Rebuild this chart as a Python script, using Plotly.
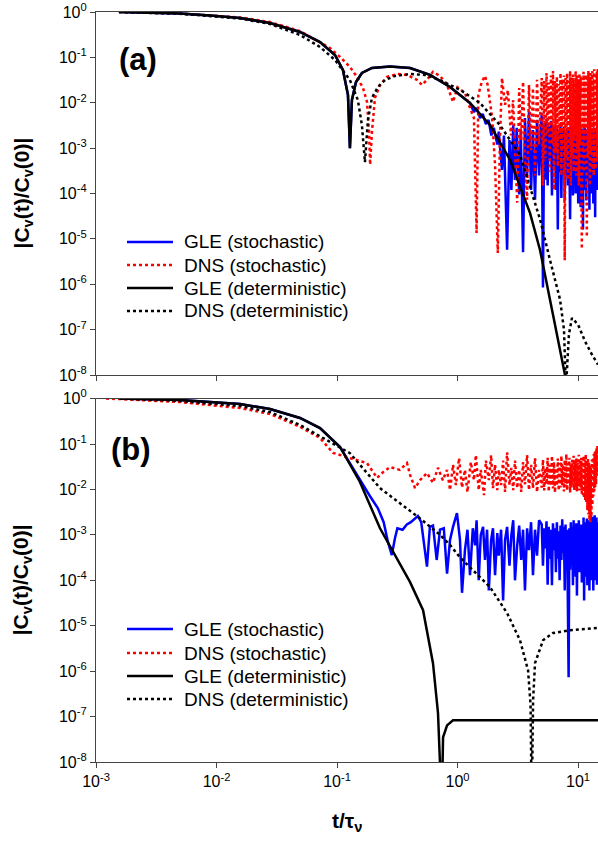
import plotly.graph_objects as go

# ---------------- shared sample times of the dense (late-time) noisy part ----------------
t_dense = [5.0, 5.12, 5.24, 5.36, 5.48, 5.6, 5.72, 5.84, 5.96, 6.08,
           6.2, 6.32, 6.44, 6.56, 6.68, 6.8, 6.92, 7.04, 7.16, 7.28,
           7.4, 7.52, 7.64, 7.76, 7.88, 8.0, 8.12, 8.24, 8.36, 8.48,
           8.6, 8.72, 8.84, 8.96, 9.08, 9.2, 9.32, 9.44, 9.56, 9.68,
           9.8, 9.92, 10.04, 10.16, 10.28, 10.4, 10.52, 10.64, 10.76, 10.88,
           11.0, 11.12, 11.24, 11.36, 11.48, 11.6, 11.72, 11.84, 11.96, 12.08,
           12.2, 12.32, 12.44, 12.56, 12.68, 12.8, 12.92, 13.04, 13.16, 13.28,
           13.4, 13.52, 13.64, 13.76, 13.88, 14.0, 14.12, 14.24, 14.36, 14.48,
           14.6]

# ---------------- Panel (a) data ----------------
gle_det_a_t = [1.55e-3, 2.8e-3, 4.98e-3, 8.83e-3, 0.0157, 0.0278, 0.0493, 0.0723, 0.0962, 0.112,
               0.1233, 0.128, 0.133, 0.1438, 0.161, 0.195, 0.275, 0.404, 0.591, 0.867,
               1.27, 1.86, 2.73, 4.0, 4.84, 6.21, 7.1, 7.94]
gle_det_a_c = [1.0, 0.975, 0.927, 0.837, 0.738, 0.573, 0.363, 0.218, 0.113, 0.053,
               0.0149, 1.0e-3, 0.0115, 0.0287, 0.0453, 0.0584, 0.063, 0.0584, 0.041, 0.0223,
               9.9e-3, 3.24e-3, 5.5e-4, 3.7e-5, 5.7e-6, 2.1e-7, 3.6e-8, 7.9e-9]

dns_det_a_t = [1.55e-3, 4.98e-3, 0.0157, 0.0278, 0.0493, 0.0723, 0.0962, 0.128, 0.149, 0.161,
               0.1706, 0.1807, 0.195, 0.2188, 0.25, 0.303, 0.404, 0.537, 0.716, 1.049,
               1.537, 2.253, 3.303, 4.842, 5.862, 7.097, 7.65, 7.94, 8.41, 8.91,
               10.0, 11.45, 13.07, 14.65]
dns_det_a_c = [1.0, 0.913, 0.719, 0.544, 0.312, 0.169, 0.088, 0.0316, 0.0115, 3.2e-3,
               4.9e-4, 4.2e-3, 0.0128, 0.0223, 0.0316, 0.039, 0.043, 0.041, 0.0316, 0.0193,
               9.9e-3, 3.2e-3, 7.1e-4, 2.7e-5, 3.4e-6, 4.6e-7, 1.0e-7, 5e-9, 7.9e-8, 1.8e-7,
               1.3e-7, 5.5e-8, 2.8e-8, 1.7e-8]

gle_sto_a_t_early = [1.55e-3, 2.8e-3, 4.98e-3, 8.83e-3, 0.0157, 0.0278, 0.0493, 0.0723, 0.0962, 0.112,
                     0.1233, 0.128, 0.133, 0.1438, 0.161, 0.195, 0.275, 0.404, 0.591, 0.867,
                     1.27, 1.37, 1.44, 1.54, 1.62, 1.72, 1.81, 1.91, 2.0, 2.14,
                     2.2, 2.34, 2.43, 2.58, 2.7, 2.8, 2.9, 3.0, 3.1, 3.25,
                     3.35, 3.5, 3.63, 3.78, 3.92, 4.08, 4.23, 4.4, 4.57, 4.75]
gle_sto_a_c_early = [1.0, 0.975, 0.927, 0.837, 0.738, 0.573, 0.363, 0.218, 0.113, 0.053,
                     0.0149, 1.0e-3, 0.0115, 0.0287, 0.0453, 0.0584, 0.063, 0.0584, 0.041, 0.0223,
                     9.9e-3, 6.2e-3, 7.7e-3, 4.6e-3, 5.7e-3, 3.4e-3, 4.2e-3, 1.9e-3, 2.8e-3, 1.2e-3,
                     2.3e-3, 3.3e-4, 1.9e-3, 5.8e-6, 1.5e-3, 1.2e-4, 3.2e-3, 2.0e-4, 2.8e-3, 9.5e-5,
                     2.5e-3, 5.1e-6, 4.6e-3, 2.5e-4, 6.3e-3, 1.2e-4, 2.5e-3, 7.3e-5, 4.2e-3, 2.5e-4]
gle_sto_a_c_dense = [6e-3, 8.5e-7, 3.5e-3, 2e-4, 4.5e-3, 1.5e-4, 3e-3, 6e-4, 4e-3, 9e-5,
                     3.2e-3, 4e-4, 2.8e-3, 1.2e-4, 3e-3, 1.6e-5, 2.5e-3, 3e-4, 3.2e-3, 8e-5,
                     2.6e-3, 5e-4, 3e-3, 7e-5, 2.4e-3, 2.5e-4, 2.8e-3, 1.5e-4, 2.5e-3, 6e-4,
                     2.7e-5, 2.8e-3, 2e-4, 2.5e-3, 9e-5, 3e-3, 4e-4, 2.6e-3, 1e-4, 2.8e-3,
                     3e-4, 2.4e-3, 6e-5, 2.7e-3, 2.5e-4, 2.9e-3, 5e-5, 2.5e-3, 4e-4, 2.7e-3,
                     1.6e-5, 2.5e-3, 1.2e-4, 2.8e-3, 3e-4, 2.4e-3, 7e-5, 2.6e-3, 2e-4, 2.3e-3,
                     5e-4, 2.8e-3, 4.4e-5, 2.5e-3, 2.5e-4, 2.7e-3, 1e-4, 2.4e-3, 3e-4, 2.6e-3,
                     6e-5, 2.8e-3, 2e-4, 2.5e-3, 3e-5, 2.6e-3, 1.5e-4, 2.4e-3, 1.2e-4, 2.6e-3,
                     2.3e-3]

dns_sto_a_t_early = [1.55e-3, 4.98e-3, 0.0157, 0.0278, 0.0493, 0.0875, 0.106, 0.128, 0.1466, 0.1644,
                     0.1775, 0.1845, 0.1883, 0.195, 0.2066, 0.2274, 0.26, 0.315, 0.381, 0.461,
                     0.507, 0.558, 0.626, 0.716, 0.819, 0.918, 1.0, 1.153, 1.269, 1.37,
                     1.44, 1.49, 1.59, 1.69, 1.78, 1.94, 2.05, 2.16, 2.25, 2.34,
                     2.48, 2.62, 2.78, 2.89, 3.0, 3.13, 3.25, 3.38, 3.5, 3.63,
                     3.78, 3.92, 4.08, 4.23, 4.4, 4.57, 4.75]
dns_sto_a_c_early = [1.0, 0.93, 0.76, 0.60, 0.38, 0.161, 0.102, 0.0615, 0.037, 0.0212,
                     0.0104, 2.3e-3, 4.3e-4, 2.3e-3, 0.0128, 0.0247, 0.037, 0.043, 0.041, 0.032,
                     0.0247, 0.032, 0.048, 0.039, 0.0247, 0.0104, 0.022, 0.0165, 7.7e-3, 4.6e-3,
                     1.35e-5, 0.0149, 0.029, 0.039, 0.0247, 4.6e-3, 4.3e-4, 4.9e-6, 1.5e-3, 0.035,
                     9.0e-3, 0.019, 1.9e-3, 0.0115, 9.0e-4, 6.3e-5, 0.021, 1.5e-3, 0.029, 5.5e-4,
                     7.3e-5, 0.0247, 9.0e-4, 0.021, 2.5e-4, 0.032, 1.2e-3]
dns_sto_a_c_dense = [0.035, 1.5e-4, 0.03, 6e-4, 0.045, 2e-3, 0.028, 3e-4, 0.04, 1.2e-3,
                     0.05, 1.2e-4, 0.03, 8e-4, 0.038, 4e-4, 0.026, 1.5e-3, 0.045, 2.5e-4,
                     0.033, 9e-4, 0.04, 3.4e-6, 0.035, 6e-4, 0.045, 2e-4, 0.03, 1.2e-3,
                     0.05, 1.5e-4, 0.036, 7e-4, 0.042, 3e-4, 0.03, 1.8e-3, 0.05, 2.5e-4,
                     0.04, 9e-4, 0.033, 1.5e-4, 0.045, 1.2e-3, 0.038, 4e-4, 6e-6, 0.035,
                     8e-4, 0.048, 3e-4, 0.03, 1.5e-3, 0.042, 2e-4, 1.1e-5, 0.04, 6e-4,
                     0.05, 1.3e-3, 0.035, 1.5e-4, 0.045, 8e-4, 0.038, 3e-4, 0.05, 1.5e-3,
                     0.032, 2.5e-4, 0.055, 9e-4, 0.04, 3.5e-4, 0.045, 1.2e-3, 0.05, 5e-4,
                     0.058]

# ---------------- Panel (b) data ----------------
gle_det_b_t = [1.55e-3, 4.98e-3, 0.0157, 0.0278, 0.0493, 0.0723, 0.106, 0.155, 0.2274, 0.303,
               0.404, 0.518, 0.558, 0.626, 0.689, 0.74, 0.759, 0.819, 0.918, 14.65]
gle_det_b_c = [1.0, 0.93, 0.76, 0.59, 0.374, 0.225, 0.086, 0.0146, 1.4e-3, 3.6e-4,
               9.1e-5, 2.2e-5, 8.0e-6, 1.5e-6, 1.2e-7, 1e-9, 3.5e-8, 6.4e-8, 8.3e-8, 8.3e-8]

dns_det_b_t = [1.55e-3, 4.98e-3, 0.0157, 0.0278, 0.0493, 0.128, 0.2274, 0.489, 0.716, 0.867,
               1.049, 1.63, 1.86, 2.58, 3.3, 3.85, 4.04, 4.13, 4.24, 4.4,
               5.13, 6.21, 8.59, 14.65]
dns_det_b_c = [1.0, 0.885, 0.687, 0.507, 0.262, 0.063, 0.0107, 2.3e-3, 1.0e-3, 6.0e-4,
               3.2e-4, 1.0e-4, 7.1e-5, 1.9e-5, 4.8e-6, 1.05e-6, 1.8e-7, 1e-9, 2.3e-7, 1.5e-6,
               4.8e-6, 6.9e-6, 8.0e-6, 8.9e-6]

gle_sto_b_t_early = [1.55e-3, 4.98e-3, 0.0157, 0.0278, 0.0493, 0.0723, 0.106, 0.155, 0.188, 0.218,
                     0.244, 0.265, 0.285, 0.303, 0.317, 0.35, 0.38, 0.41, 0.443, 0.469,
                     0.5, 0.53, 0.558, 0.59, 0.626, 0.672, 0.716, 0.77, 0.819, 0.867,
                     0.918, 0.99, 1.049, 1.09, 1.153, 1.21, 1.27, 1.34, 1.4, 1.44,
                     1.5, 1.56, 1.63, 1.69, 1.76, 1.82, 1.9, 1.97, 2.05, 2.14,
                     2.2, 2.3, 2.39, 2.48, 2.58, 2.7, 2.8, 2.9, 3.0, 3.13,
                     3.25, 3.38, 3.5, 3.63, 3.78, 3.92, 4.08, 4.23, 4.4, 4.57,
                     4.75]
gle_sto_b_c_early = [1.0, 0.93, 0.76, 0.59, 0.374, 0.225, 0.086, 0.016, 7.1e-3, 3.9e-3,
                     1.9e-3, 6.9e-4, 3.6e-4, 8.5e-4, 1.4e-3, 1.3e-3, 1.7e-3, 1.9e-3, 2.3e-3, 2.6e-3,
                     1.9e-3, 5.9e-4, 2.0e-4, 1.5e-3, 1.6e-3, 2.8e-4, 1.3e-3, 1.4e-3, 1.4e-4, 7.7e-4,
                     1.5e-3, 3.0e-3, 7.7e-4, 5.3e-5, 4.6e-4, 1.3e-3, 1.3e-4, 1.4e-3, 5.9e-4, 2.1e-3,
                     1.0e-4, 1.0e-3, 1.5e-3, 2.8e-4, 1.3e-3, 6.0e-5, 7.7e-4, 1.4e-3, 1.3e-4, 1.1e-3,
                     3.5e-4, 1.3e-3, 3.6e-5, 7.7e-4, 1.5e-3, 2.1e-4, 1.0e-3, 2.1e-3, 1.0e-4, 5.9e-4,
                     1.6e-3, 2.8e-4, 1.3e-3, 6.0e-5, 1.4e-3, 4.6e-4, 1.9e-3, 1.3e-4, 1.3e-3, 3.5e-4,
                     2.1e-3]
gle_sto_b_c_dense = [1.7e-3, 2.1e-4, 1.4e-3, 5e-4, 2e-3, 8e-5, 1.5e-3, 3e-4, 1.3e-3, 7.8e-5,
                     1.8e-3, 4.6e-4, 1.4e-3, 1.5e-4, 1.9e-3, 3e-4, 1.2e-3, 1e-4, 1.6e-3, 2.8e-4,
                     2.2e-3, 4e-4, 1.5e-3, 6e-5, 1.7e-3, 2.5e-4, 1.3e-3, 6e-5, 7.3e-7, 1.4e-3,
                     1.7e-4, 1.9e-3, 3.5e-4, 1.5e-3, 7.8e-5, 2.1e-3, 2.8e-4, 1.4e-3, 1.2e-4, 1.8e-3,
                     4.6e-5, 1.3e-3, 3e-4, 2.1e-3, 1.5e-4, 1.5e-3, 4e-4, 1.7e-3, 9e-5, 1.3e-3,
                     2.1e-4, 2.4e-3, 3.6e-5, 1.5e-3, 3.5e-4, 1.9e-3, 1.2e-4, 2.3e-3, 7.8e-5, 1.5e-3,
                     2.5e-4, 2.1e-3, 6e-5, 1.6e-3, 3e-4, 2.7e-3, 1e-4, 2.1e-3, 4e-4, 2.5e-3,
                     6e-5, 1.8e-3, 2e-4, 2.7e-3, 1e-4, 2.1e-3, 3e-4, 2.4e-3, 8e-5, 1.9e-3,
                     6e-4]

dns_sto_b_t_early = [1.21e-3, 1.55e-3, 4.98e-3, 0.0157, 0.0278, 0.0493, 0.0723, 0.0927, 0.128, 0.1775,
                     0.215, 0.241, 0.275, 0.333, 0.381, 0.404, 0.444, 0.489, 0.558, 0.626,
                     0.689, 0.755, 0.819, 0.867, 0.918, 0.97, 1.03, 1.09, 1.153, 1.21,
                     1.29, 1.37, 1.42, 1.5, 1.56, 1.66, 1.72, 1.82, 1.9, 1.97,
                     2.05, 2.14, 2.2, 2.3, 2.39, 2.48, 2.58, 2.7, 2.8, 2.9,
                     3.0, 3.13, 3.25, 3.38, 3.5, 3.63, 3.78, 3.92, 4.08, 4.23,
                     4.4, 4.57, 4.75]
dns_sto_b_c_early = [1.0, 0.98, 0.84, 0.62, 0.46, 0.24, 0.136, 0.064, 0.049, 0.038,
                     0.018, 0.024, 0.031, 0.027, 0.038, 0.021, 0.0107, 0.016, 0.023, 0.014,
                     0.030, 0.016, 0.027, 0.0097, 0.035, 0.0125, 0.049, 0.011, 0.027, 0.0088,
                     0.040, 0.016, 0.057, 0.0097, 0.027, 0.0075, 0.043, 0.016, 0.057, 0.0107,
                     0.035, 0.0097, 0.027, 0.0125, 0.043, 0.0088, 0.066, 0.0125, 0.030, 0.0097,
                     0.043, 0.0107, 0.027, 0.0088, 0.040, 0.013, 0.057, 0.0097, 0.035, 0.0107,
                     0.049, 0.0088, 0.027]
dns_sto_b_c_dense = [0.011, 0.045, 0.0095, 0.03, 0.013, 0.05, 0.009, 0.035, 0.012, 0.055,
                     0.0105, 0.04, 0.0085, 0.03, 0.012, 0.048, 0.0095, 0.038, 0.011, 0.055,
                     0.0125, 0.035, 0.009, 0.045, 0.0115, 0.06, 0.0095, 0.038, 0.013, 0.05,
                     0.0085, 0.035, 0.011, 0.045, 0.0125, 0.055, 0.0095, 0.04, 0.011, 0.05,
                     0.009, 0.038, 0.012, 0.058, 0.0095, 0.042, 0.011, 0.05, 0.008, 0.04,
                     0.0075, 0.055, 0.0065, 0.045, 0.0058, 0.06, 0.005, 0.042, 0.0035, 0.05,
                     0.0028, 0.04, 0.0021, 0.035, 0.0019, 0.03, 0.0025, 0.045, 0.0045, 0.05,
                     0.007, 0.06, 0.009, 0.066, 0.011, 0.07, 0.013, 0.08, 0.02, 0.09,
                     0.06]

# ---------------- Axis / labels ----------------
x_tick_vals = [1e-3, 1e-2, 1e-1, 1e0, 1e1]
x_tick_text = ["10<sup>-3</sup>", "10<sup>-2</sup>", "10<sup>-1</sup>", "10<sup>0</sup>", "10<sup>1</sup>"]
y_tick_vals = [1e-8, 1e-7, 1e-6, 1e-5, 1e-4, 1e-3, 1e-2, 1e-1, 1e0]
y_tick_text = ["10<sup>-8</sup>", "10<sup>-7</sup>", "10<sup>-6</sup>", "10<sup>-5</sup>", "10<sup>-4</sup>",
               "10<sup>-3</sup>", "10<sup>-2</sup>", "10<sup>-1</sup>", "10<sup>0</sup>"]
legend_names = ["GLE (stochastic)", "DNS (stochastic)", "GLE (deterministic)", "DNS (deterministic)"]
legend_colors = ["#0000FF", "#FF0000", "#000000", "#000000"]
legend_dash = ["solid", "dot", "solid", "dot"]
legend_width = [2.5, 2.5, 2.5, 2.5]

FONT = "Liberation Sans, Arial, sans-serif"
W, H = 598, 845
L, R, T, B = 96, 0, 12, 83
PW, PH = W - L - R, H - T - B
top_a, bot_a = 12, 375
top_b, bot_b = 398.6, 762


def px_x(px):
    return (px - L) / PW


def px_y(py):
    return (H - B - py) / PH


gle_sto_a_t = gle_sto_a_t_early + t_dense
gle_sto_a_c = gle_sto_a_c_early + gle_sto_a_c_dense
dns_sto_a_t = dns_sto_a_t_early + t_dense
dns_sto_a_c = dns_sto_a_c_early + dns_sto_a_c_dense
gle_sto_b_t = gle_sto_b_t_early + t_dense
gle_sto_b_c = gle_sto_b_c_early + gle_sto_b_c_dense
dns_sto_b_t = dns_sto_b_t_early + t_dense
dns_sto_b_c = dns_sto_b_c_early + dns_sto_b_c_dense

fig = go.Figure()

series_a = [(gle_sto_a_t, gle_sto_a_c), (dns_sto_a_t, dns_sto_a_c),
            (gle_det_a_t, gle_det_a_c), (dns_det_a_t, dns_det_a_c)]
series_b = [(gle_sto_b_t, gle_sto_b_c), (dns_sto_b_t, dns_sto_b_c),
            (gle_det_b_t, gle_det_b_c), (dns_det_b_t, dns_det_b_c)]

for (tt, cc), name, col, dash, lw in zip(series_a, legend_names, legend_colors, legend_dash, legend_width):
    fig.add_trace(go.Scatter(x=tt, y=cc, mode="lines", name=name, showlegend=False,
                             line=dict(color=col, dash=dash, width=lw),
                             xaxis="x", yaxis="y"))
for (tt, cc), name, col, dash, lw in zip(series_b, legend_names, legend_colors, legend_dash, legend_width):
    fig.add_trace(go.Scatter(x=tt, y=cc, mode="lines", name=name, showlegend=False,
                             line=dict(color=col, dash=dash, width=lw),
                             xaxis="x2", yaxis="y2"))

axis_common = dict(showgrid=False, zeroline=False, showline=True, linecolor="#444", linewidth=1.2,
                   ticks="outside", ticklen=5, tickcolor="#444", tickwidth=1.2,
                   tickfont=dict(family=FONT, size=16, color="black"))

fig.update_layout(
    width=W, height=H,
    margin=dict(l=L, r=R, t=T, b=B, autoexpand=False),
    paper_bgcolor="white", plot_bgcolor="white",
    xaxis=dict(type="log", range=[-3, 1.166], domain=[0, 1], anchor="y", mirror=True,
               tickvals=x_tick_vals, ticktext=x_tick_text, showticklabels=False, **axis_common),
    yaxis=dict(type="log", range=[-8, 0], domain=[px_y(bot_a), 1], anchor="x",
               tickvals=y_tick_vals, ticktext=y_tick_text, **axis_common),
    xaxis2=dict(type="log", range=[-3, 1.166], domain=[0, 1], anchor="y2", mirror=True,
                tickvals=x_tick_vals, ticktext=x_tick_text, **axis_common),
    yaxis2=dict(type="log", range=[-8, 0], domain=[0, px_y(top_b)], anchor="x2",
                tickvals=y_tick_vals, ticktext=y_tick_text, **axis_common),
    showlegend=False,
)

ytitle = "<b>|C<sub>v</sub>(t)/C<sub>v</sub>(0)|</b>"
annotations = []
for yc in ((top_a + bot_a) / 2, (top_b + bot_b) / 2):
    annotations.append(dict(text=ytitle, x=px_x(22), y=px_y(yc), textangle=-90,
                            xref="paper", yref="paper", showarrow=False, xanchor="center", yanchor="middle",
                            font=dict(family=FONT, size=21, color="black")))
annotations.append(dict(text="<b>t/τ<sub>ν</sub></b>", x=px_x(347), y=px_y(822), xref="paper", yref="paper",
                        showarrow=False, xanchor="center", yanchor="middle",
                        font=dict(family=FONT, size=21, color="black")))
annotations.append(dict(text="<b>(a)</b>", x=px_x(117), y=px_y(60), xref="paper", yref="paper",
                        showarrow=False, xanchor="left", yanchor="middle",
                        font=dict(family=FONT, size=31, color="black")))
annotations.append(dict(text="<b>(b)</b>", x=px_x(109), y=px_y(449), xref="paper", yref="paper",
                        showarrow=False, xanchor="left", yanchor="middle",
                        font=dict(family=FONT, size=31, color="black")))

shapes = []
rows_a = [242, 265, 288, 311]
rows_b = [629, 653, 676, 699]
for rows in (rows_a, rows_b):
    for ry, name, col, dash, lw in zip(rows, legend_names, legend_colors, legend_dash, legend_width):
        shapes.append(dict(type="line", xref="paper", yref="paper", x0=px_x(127), x1=px_x(173),
                           y0=px_y(ry), y1=px_y(ry), line=dict(color=col, dash=dash, width=lw)))
        annotations.append(dict(text=name, x=px_x(182), y=px_y(ry), xref="paper", yref="paper",
                                showarrow=False, xanchor="left", yanchor="middle",
                                font=dict(family=FONT, size=19, color="black")))

fig.update_layout(annotations=annotations, shapes=shapes)

fig.write_html("out.html")
